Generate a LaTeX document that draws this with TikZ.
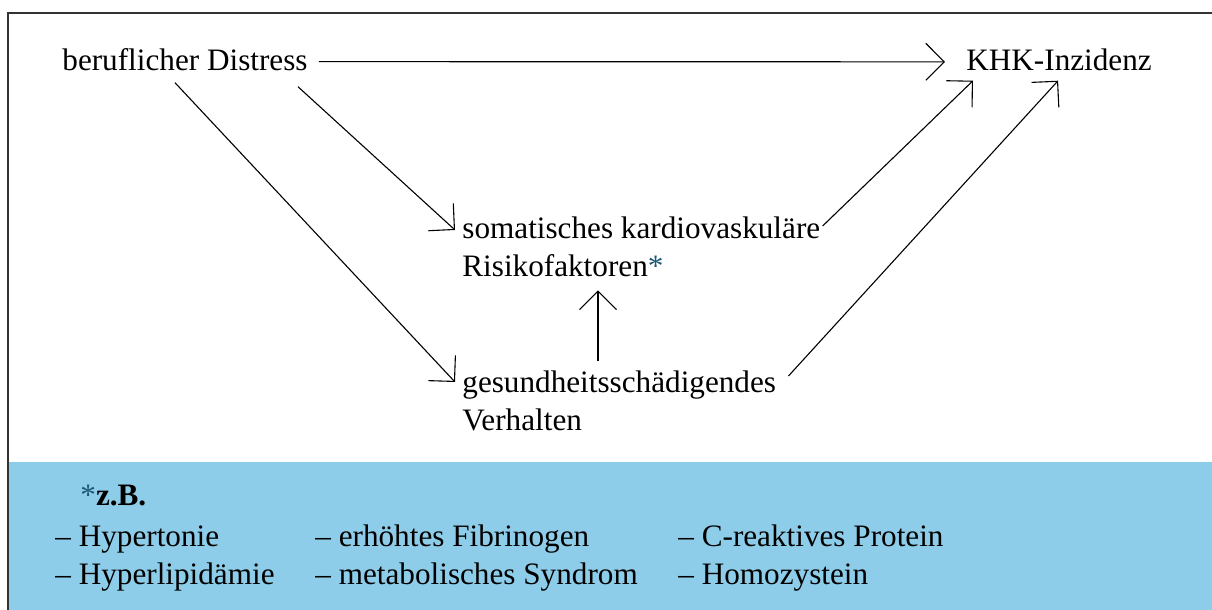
\documentclass[tikz,border=0pt]{standalone}
\usepackage{fontspec}
\setmainfont{Liberation Serif}
\usetikzlibrary{arrows.meta,calc}
\definecolor{boxblue}{RGB}{142,205,233}
\definecolor{startint}{RGB}{28,88,118}

\begin{document}
\begin{tikzpicture}[x=0.5pt,y=-0.5pt,
  every node/.style={inner sep=0pt,font=\fontsize{15.6}{19.3}\selectfont},
  lbl/.style={anchor=base west},
  blk/.style={anchor=north west,align=left},
  pfeil/.style={-{Straight Barb[length=9.2pt,width=18.5pt]},line width=0.55pt}]
  \useasboundingbox (0,0) rectangle (1212,610);
  % frame and legend band
  \fill[boxblue] (9,462) rectangle (1212,610);
  \draw[line width=0.7pt,black!80] (8,610) -- (8,13) -- (1212,13);

  \node[lbl] (distress) at (62,71) {beruflicher Distress};
  \node[lbl] (khk) at (966,71) {KHK-Inzidenz};
  \node[blk] (soma) at (462,216) {somatisches kardiovaskuläre\\Risikofaktoren\textcolor{startint}{*}};
  \node[blk] (verh) at (462,370) {gesundheitsschädigendes\\Verhalten};

  \draw[pfeil] ($(distress.east)+(11,1.5)$) -- ($(khk.west)+(-21,1.5)$);
  \draw[pfeil] ($(distress.south east)+(-10,15)$) -- ($(soma.north west)+(-7,14)$);
  \draw[pfeil] ($(distress.south west)+(113,11)$) -- ($(verh.north west)+(-7,12)$);
  \draw[pfeil] ($(verh.north west)+(136,-9)$) -- ($(soma.south west)+(136,13)$);
  \draw[pfeil] ($(soma.north east)+(2,10)$) -- ($(khk.south west)+(7,9)$);
  \draw[pfeil] ($(verh.north east)+(12,6)$) -- ($(khk.south)+(-1,9)$);

  % legend
  \node[lbl] (zb) at (80,505) {\textcolor{startint}{*}\textbf{z.B.}};
  \foreach \n/\x/\y/\txt in {hyp/55/546/Hypertonie, lip/55/584/Hyperlipidämie,
      fib/315/546/erhöhtes Fibrinogen, met/315/584/metabolisches Syndrom,
      crp/678/546/C-reaktives Protein, hcy/678/584/Homozystein}
    \node[lbl] (\n) at (\x,\y) {– \txt};
\end{tikzpicture}
\end{document}
